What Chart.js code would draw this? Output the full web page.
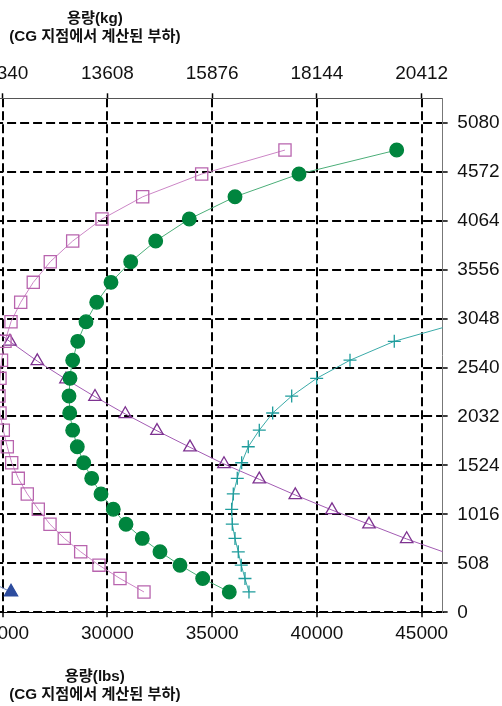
<!DOCTYPE html>
<html>
<head>
<meta charset="utf-8">
<script src="https://cdn.jsdelivr.net/npm/chart.js@4.4.1/dist/chart.umd.min.js"></script>
<style>
  html, body { margin: 0; padding: 0; background: #fff; overflow: hidden; }
  #wrap { position: absolute; left: -270px; top: 0; width: 772px; height: 706px; }
</style>
</head>
<body>
<div id="wrap"><canvas id="chart"></canvas></div>
<script>
// ========================================
// Data
// ========================================
// 높이 단계 (mm), 아래에서 위로
const levelsMm = [211, 351, 489, 628, 767, 914, 1069, 1228, 1390, 1552, 1718, 1890, 2068,
                  2244, 2428, 2616, 2812, 3015, 3217, 3424, 3638, 3853, 4081, 4312, 4548, 4797];

// 각 곡선의 용량 (lbs), levelsMm 와 같은 순서
const squareLbs = [31744, 30599, 29596, 28723, 27940, 27258, 26699, 26174, 25745, 25430, 25220, 25029, 24871,
                   24823, 24871, 24943, 25110, 25396, 25859, 26460, 27272, 28341, 29740, 31682, 34498, 38474];
const circleLbs = [35816, 34546, 33463, 32508, 31663, 30885, 30279, 29692, 29248, 28866, 28561, 28341, 28198,
                   28165, 28212, 28341, 28580, 28976, 29487, 30169, 31110, 32303, 33906, 36088, 39142, 43806];
const crossLbs = [36756, 36565, 36388, 36245, 36088, 35959, 35930, 36007, 36197, 36407, 36722, 37248, 37887,
                  38794, 39987, 41578, 43691, 47000];
const filledTriangleLbs = [25397, 24060];

// 삼각형 곡선은 자체 높이값 사용
const triangleLbs = [46590, 44283, 42484, 40718, 38966, 37248, 35563, 33940, 32365, 30852, 29406, 28021, 26651, 25348, 24120];
const triangleMm  = [584, 761, 913, 1061, 1217, 1380, 1539, 1712, 1884, 2058, 2237, 2418, 2607, 2809, 3010];

// 축 눈금
const lbsTicks = [25000, 30000, 35000, 40000, 45000];
const kgTickLabels = ['11340', '13608', '15876', '18144', '20412'];
const mmTicks = [0, 508, 1016, 1524, 2032, 2540, 3048, 3556, 4064, 4572, 5080];

// ========================================
// Chart
// ========================================
const FONT = "'Liberation Sans', Arial, 'Noto Sans CJK KR', sans-serif";
const tickFont = { family: FONT, size: 19 };
const titleFont = { family: FONT, size: 15.2, weight: 'bold', lineHeight: 1.15 };

const toPoints = (xs, ys) => xs
    .map((x, i) => (x === null ? null : { x: x, y: ys[i] }))
    .filter(p => p !== null);

const series = (points, color, lineColor, style, radius, filled) => ({
    data: points,
    borderColor: lineColor,
    borderWidth: 1,
    pointStyle: style,
    pointRadius: radius,
    pointBorderColor: color,
    pointBorderWidth: 1.3,
    pointBackgroundColor: filled ? color : 'rgba(0,0,0,0)',
    tension: 0,
    clip: 0,
    xAxisID: 'x',
    yAxisID: 'y'
});

const fixedTicks = values => scale => {
    scale.ticks = values.map(v => ({ value: v }));
};

new Chart(document.getElementById('chart'), {
    type: 'line',
    data: {
        datasets: [
            series(toPoints(squareLbs, levelsMm), '#B864AE', '#CC86C6', 'rect', 8.6, false),
            series(toPoints(circleLbs, levelsMm), '#00853E', '#4BAE78', 'circle', 6.8, true),
            series(toPoints(crossLbs, levelsMm), '#1E9C9C', '#3AAAA8', 'cross', 6.5, false),
            series(toPoints(triangleLbs, triangleMm), '#7E3391', '#A35CB3', 'triangle', 7.2, false),
            series(toPoints(filledTriangleLbs, levelsMm), '#2D4C9E', '#6F86C0', 'triangle', 7.6, true)
        ]
    },
    options: {
        animation: false,
        responsive: true,
        maintainAspectRatio: false,
        layout: { padding: { left: 17.1, right: 0, top: 0, bottom: 0 } },
        plugins: { legend: { display: false }, tooltip: { enabled: false } },
        scales: {
            x: {
                type: 'linear',
                position: 'bottom',
                min: 12800,
                max: 46000,
                afterBuildTicks: fixedTicks(lbsTicks),
                afterFit: s => { s.height = 93.7; },
                ticks: { font: tickFont, color: '#111', padding: 5, maxRotation: 0, autoSkip: false,
                         callback: v => String(v) },
                grid: { color: '#000', lineWidth: 2, tickLength: 5, tickWidth: 1.5, tickColor: '#000' },
                border: { dash: [9, 4], color: '#000', width: 1 },
                title: { display: true, text: ['용량(lbs)', '(CG 지점에서 계산된 부하)'], font: titleFont,
                         color: '#111', padding: { top: 0, bottom: 2.5 } }
            },
            x2: {
                type: 'linear',
                position: 'top',
                min: 12800,
                max: 46000,
                afterBuildTicks: fixedTicks(lbsTicks),
                afterFit: s => { s.height = 98.3; },
                ticks: { font: tickFont, color: '#111', padding: 8, maxRotation: 0, autoSkip: false,
                         callback: (v, i) => kgTickLabels[i] },
                grid: { drawOnChartArea: false, tickLength: 5, tickWidth: 1.5, tickColor: '#000' },
                border: { color: '#555', width: 1 },
                title: { display: true, text: ['용량(kg)', '(CG 지점에서 계산된 부하)'], font: titleFont,
                         color: '#111', padding: { top: 10.3, bottom: 0 } }
            },
            y: {
                type: 'linear',
                position: 'right',
                min: 0,
                max: 5334,
                afterBuildTicks: fixedTicks(mmTicks),
                afterFit: s => { s.width = 59.35; },
                ticks: { font: tickFont, color: '#111', padding: 9.7, autoSkip: false,
                         callback: v => String(v) },
                grid: { color: '#000', lineWidth: 2, tickLength: 5, tickWidth: 1.5, tickColor: '#000' },
                border: { dash: [9, 4], color: '#777', width: 1 }
            }
        }
    }
});
</script>
</body>
</html>
